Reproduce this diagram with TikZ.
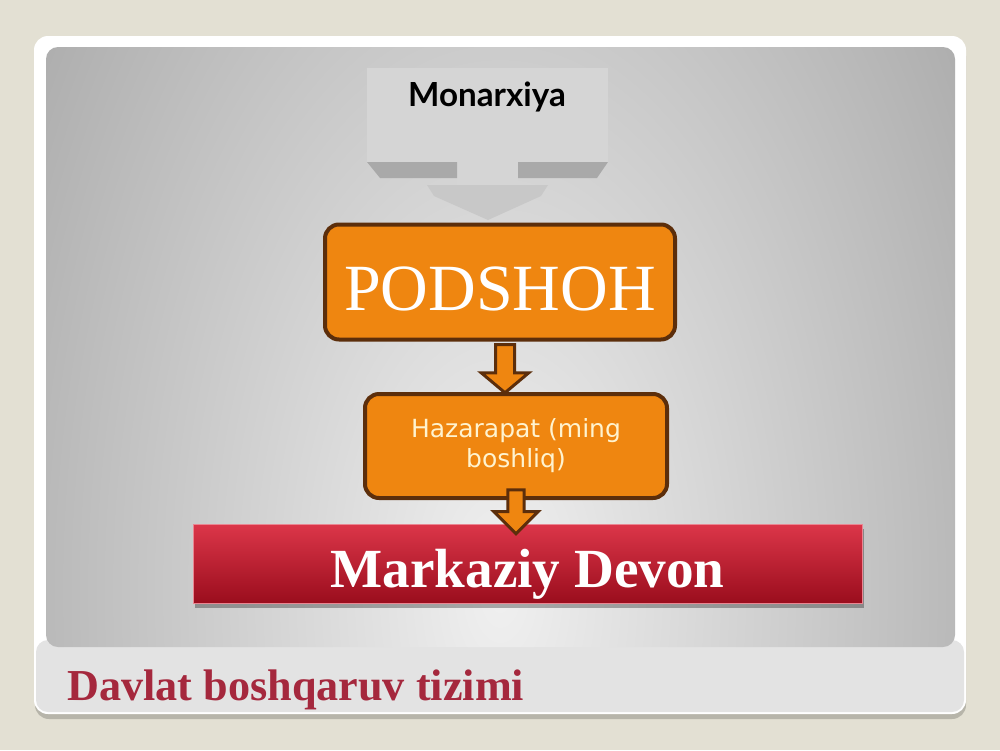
\documentclass[tikz,border=0pt]{standalone}
\usepackage{fontspec}
\setmainfont{Liberation Serif}
\newfontfamily\latofont{Lato}
\newfontfamily\dejavufont{DejaVu Sans}
\usetikzlibrary{shapes.arrows,shadows}

\definecolor{beige}{HTML}{E3E0D3}
\definecolor{framegray}{HTML}{E3E3E3}
\definecolor{framefoot}{HTML}{B7B5AA}
\definecolor{paneldark}{HTML}{A2A2A2}
\definecolor{panellight}{HTML}{F0F0F0}
\definecolor{calloutface}{HTML}{D5D5D5}
\definecolor{calloutside}{HTML}{A9A9A9}
\definecolor{calloutchev}{HTML}{C8C8C8}
\definecolor{orangefill}{HTML}{EF8610}
\definecolor{brownline}{HTML}{5C2E0B}
\definecolor{creamtext}{HTML}{FFF3CF}
\definecolor{redtop}{HTML}{DC3649}
\definecolor{redbottom}{HTML}{9A0D1D}
\definecolor{titlered}{HTML}{A5283D}

\pgfdeclareradialshading{panelshade}{\pgfpoint{0bp}{0bp}}{color(0bp)=(panellight); color(28bp)=(paneldark); color(50bp)=(paneldark)}

\tikzset{
	orangebox/.style={draw=brownline, line width=2pt, fill=orangefill, rounded corners=7pt},
	downarrow/.style={single arrow, shape border rotate=270, draw=brownline, line width=1.5pt,
		fill=orangefill, inner sep=4pt, single arrow tip angle=100, single arrow head indent=0pt},
	redbar/.style={top color=redtop, bottom color=redbottom, draw=redtop!60!white, line width=0.4pt,
		minimum width=334.5pt, minimum height=39.5pt, text=white,
		drop shadow={shadow xshift=1pt, shadow yshift=-2.5pt, fill=black, opacity=.3}}
}

\begin{document}
\begin{tikzpicture}[x=0.5pt, y=-0.5pt]
\useasboundingbox (0,0) rectangle (1000,750);
\fill[beige] (0,0) rectangle (1000,750);

% slide frame
\fill[framefoot, rounded corners=7pt] (35,42) rectangle (966,719);
\fill[white, rounded corners=7pt] (34,36) rectangle (966,714);
\fill[framegray, rounded corners=6pt] (36,640) rectangle (964,712);
\begin{scope}
	\clip[rounded corners=6pt] (46,47) rectangle (955,647);
	\shade[shading=panelshade] (500,590) ellipse [x radius=290pt, y radius=520pt];
\end{scope}

% Monarxiya callout
\fill[calloutface] (367,68) rectangle (608,162);
\fill[calloutface] (457,160) rectangle (518,186);
\fill[calloutside] (367,162) -- (457,162) -- (457,178) -- (380,178) -- cycle;
\fill[calloutside] (518,162) -- (608,162) -- (597,178) -- (518,178) -- cycle;
\fill[calloutchev] (427,185) -- (548,185) -- (541,196) -- (488,220) -- (434,196) -- cycle;
\node (monarx) at (487,97) {\latofont\bfseries\fontsize{16.6}{19}\selectfont Monarxiya};

% boxes
\node[orangebox, minimum width=175pt, minimum height=57.5pt, text=white] (podshoh) at (500,282)
	{\fontsize{33}{40}\selectfont\raisebox{-14pt}[0pt][0pt]{PODSHOH}};
\node[orangebox, minimum width=151pt, minimum height=52pt, text=creamtext, align=center,
	font=\dejavufont\fontsize{12.5}{15}\selectfont] (hazar) at (516,446) {Hazarapat (ming\\boshliq)};
\node[redbar] (markaz) at (527.5,563.5) {\bfseries\fontsize{27.6}{32}\selectfont\raisebox{-11.75pt}[0pt][0pt]{Markaziy Devon}};

% arrows
\path (podshoh.south) -- (podshoh.south |- hazar.north)
	node[downarrow, midway, xshift=2.5pt, yshift=1pt, minimum height=24pt, minimum width=18.5pt] (arr1) {};
\path (hazar.south) -- (hazar.south |- markaz.north)
	node[downarrow, midway, yshift=2pt, inner sep=3.3pt, minimum height=22pt, minimum width=15.5pt,
		single arrow tip angle=90] (arr2) {};

\node[anchor=base west, inner sep=0pt, text=titlered] (title) at (67,700)
	{\bfseries\fontsize{22.1}{26}\selectfont Davlat boshqaruv tizimi};
\end{tikzpicture}
\end{document}
